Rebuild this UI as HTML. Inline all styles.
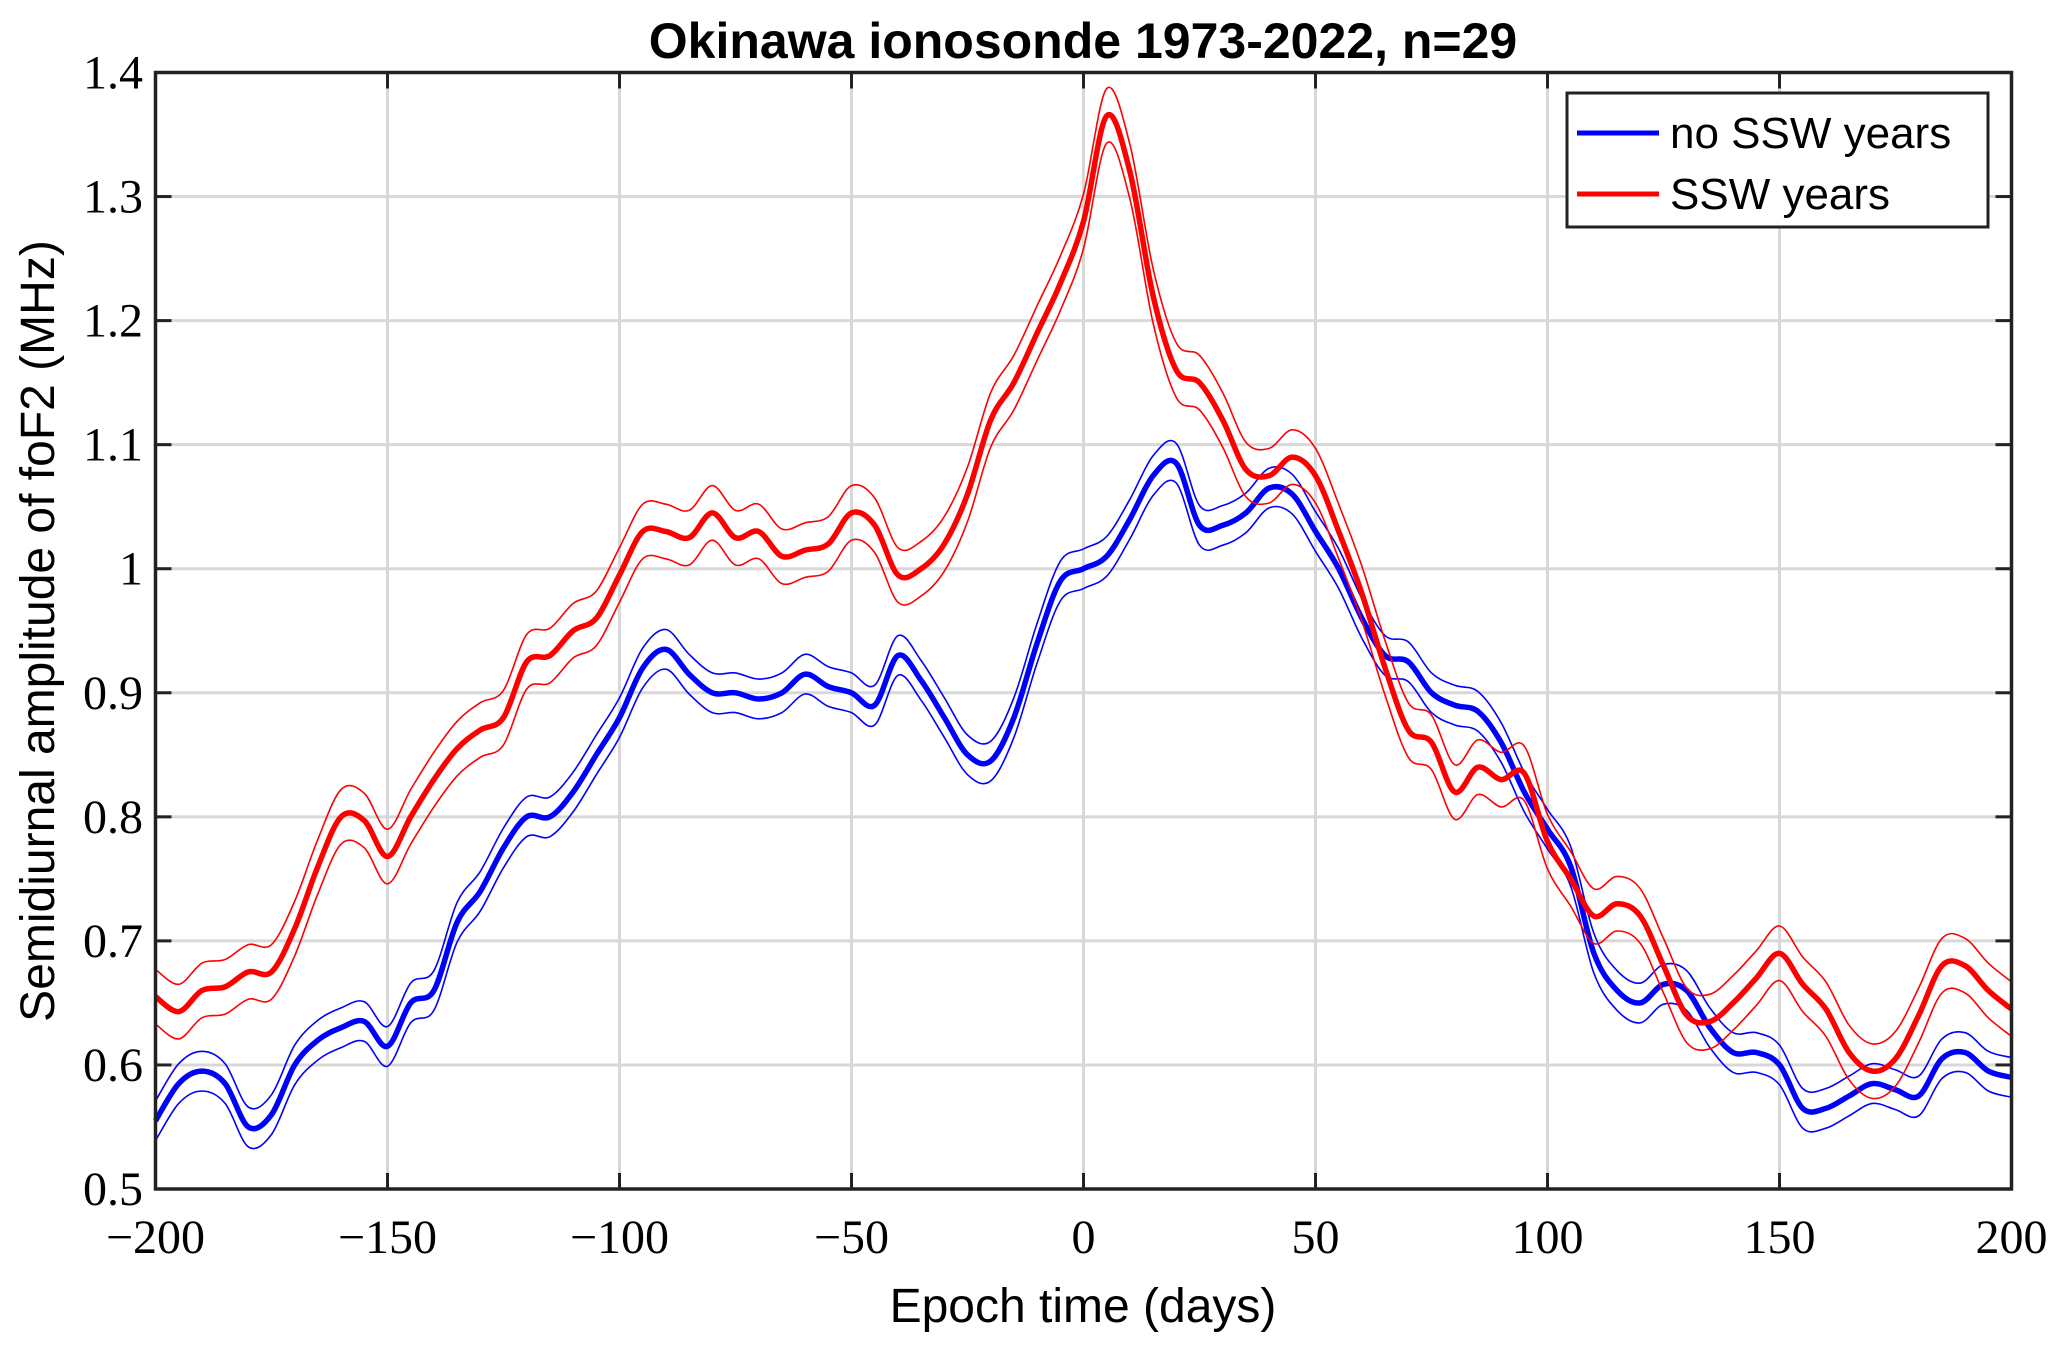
<!DOCTYPE html>
<html><head><meta charset="utf-8"><style>
body{margin:0;background:#fff}
svg{display:block}
</style></head><body>
<svg id="chart" width="2067" height="1351" xmlns="http://www.w3.org/2000/svg">
<rect width="2067" height="1351" fill="#fff"/>
<g id="grid"></g>
<g id="series"></g>
<g id="axes"></g>
<text x="1083" y="58" text-anchor="middle" font-family="Liberation Sans, sans-serif" font-weight="bold" font-size="50">Okinawa ionosonde 1973-2022, n=29</text>
<text x="1083" y="1322" text-anchor="middle" font-family="Liberation Sans, sans-serif" font-size="48">Epoch time (days)</text>
<text transform="translate(54,631) rotate(-90)" text-anchor="middle" font-family="Liberation Sans, sans-serif" font-size="48">Semidiurnal amplitude of foF2 (MHz)</text>
<g>
<rect x="1567" y="93" width="421" height="134" fill="#fff" stroke="#222" stroke-width="3"/>
<line x1="1577" y1="133" x2="1659" y2="133" stroke="#0000ff" stroke-width="5"/>
<text x="1670" y="148" font-family="Liberation Sans, sans-serif" font-size="44">no SSW years</text>
<line x1="1577" y1="194" x2="1659" y2="194" stroke="#ff0000" stroke-width="5"/>
<text x="1670" y="209" font-family="Liberation Sans, sans-serif" font-size="44">SSW years</text>
</g>
</svg>
<script>
const days = [];
for (let d = -200; d <= 200; d += 5) days.push(d);
const sswValues = [0.655,0.643,0.66,0.663,0.675,0.675,0.71,0.76,0.8,0.797,0.768,0.8,0.83,0.855,0.87,0.88,0.925,0.93,0.95,0.96,0.995,1.03,1.03,1.025,1.045,1.025,1.03,1.01,1.015,1.02,1.045,1.035,0.995,1.0,1.02,1.06,1.12,1.15,1.19,1.23,1.28,1.365,1.32,1.22,1.16,1.15,1.12,1.08,1.075,1.09,1.075,1.03,0.98,0.92,0.87,0.86,0.82,0.84,0.83,0.835,0.78,0.75,0.72,0.73,0.72,0.68,0.64,0.635,0.65,0.67,0.69,0.665,0.645,0.61,0.595,0.605,0.64,0.68,0.68,0.66,0.645];
const noSswValues = [0.555,0.585,0.595,0.585,0.55,0.56,0.6,0.62,0.63,0.635,0.615,0.65,0.66,0.715,0.74,0.775,0.8,0.8,0.82,0.85,0.88,0.92,0.935,0.915,0.9,0.9,0.895,0.9,0.915,0.905,0.9,0.89,0.93,0.91,0.88,0.85,0.845,0.88,0.94,0.99,1.0,1.01,1.04,1.075,1.085,1.035,1.035,1.045,1.065,1.06,1.03,1.0,0.96,0.93,0.925,0.9,0.89,0.885,0.86,0.82,0.79,0.76,0.69,0.66,0.65,0.665,0.66,0.63,0.61,0.61,0.6,0.565,0.565,0.575,0.585,0.58,0.575,0.605,0.61,0.595,0.59];
const sswSpread = [0.022];
const noSswSpread = [0.016];
const xTicks = [-200,-150,-100,-50,0,50,100,150,200];
const xTickLabels = ["\u2212200","\u2212150","\u2212100","\u221250","0","50","100","150","200"];
const yTicks = [0.5,0.6,0.7,0.8,0.9,1,1.1,1.2,1.3,1.4];
const yTickLabels = ["0.5","0.6","0.7","0.8","0.9","1","1.1","1.2","1.3","1.4"];

const L=155.5,R=2011.5,T=72.5,B=1189;
const xs = d => L + (d+200)/400*(R-L);
const ys = v => B - (v-0.5)/0.9*(B-T);
const NS='http://www.w3.org/2000/svg';
function mk(tag, attrs, parent){const e=document.createElementNS(NS,tag);for(const k in attrs)e.setAttribute(k,attrs[k]);parent.appendChild(e);return e;}
const grid=document.getElementById('grid'), axes=document.getElementById('axes'), series=document.getElementById('series');
xTicks.forEach((t,i)=>{
  if(i>0&&i<xTicks.length-1){
    const g=mk('line',{x1:xs(t),x2:xs(t),y1:T,y2:B,stroke:'#d8d8d8','stroke-width':3},grid);
    
    
    for(const [y1,y2] of [[B,B-16],[T,T+16]]){
      const tk=mk('line',{x1:xs(t),x2:xs(t),y1:y1,y2:y2,stroke:'#222','stroke-width':3},axes);
      
      
    }
  }
  const lb=mk('text',{x:xs(t),y:1253,'text-anchor':'middle','font-family':'Liberation Serif, serif','font-size':48},axes);
  lb.textContent=xTickLabels[i];
  
  
});
yTicks.forEach((t,i)=>{
  if(i>0&&i<yTicks.length-1){
    const g=mk('line',{x1:L,x2:R,y1:ys(t),y2:ys(t),stroke:'#d8d8d8','stroke-width':3},grid);
    
    
    for(const [x1,x2] of [[L,L+16],[R,R-16]]){
      const tk=mk('line',{x1:x1,x2:x2,y1:ys(t),y2:ys(t),stroke:'#222','stroke-width':3},axes);
      
      
    }
  }
  const lb=mk('text',{x:143,y:ys(t)+16,'text-anchor':'end','font-family':'Liberation Serif, serif','font-size':48},axes);
  lb.textContent=yTickLabels[i];
  
  
});
const frame=mk('rect',{x:L,y:T,width:R-L,height:B-T,fill:'none',stroke:'#222','stroke-width':3.5},axes);



function pathOf(vals, off){
  const p=vals.map((v,i)=>[xs(days[i]),ys(v+off)]);
  let d='M'+p[0][0].toFixed(1)+','+p[0][1].toFixed(1);
  for(let i=0;i<p.length-1;i++){
    const p0=p[Math.max(0,i-1)],p1=p[i],p2=p[i+1],p3=p[Math.min(p.length-1,i+2)];
    const c1=[p1[0]+(p2[0]-p0[0])/6,p1[1]+(p2[1]-p0[1])/6];
    const c2=[p2[0]-(p3[0]-p1[0])/6,p2[1]-(p3[1]-p1[1])/6];
    d+=`C${c1[0].toFixed(1)},${c1[1].toFixed(1)} ${c2[0].toFixed(1)},${c2[1].toFixed(1)} ${p2[0].toFixed(1)},${p2[1].toFixed(1)}`;
  }
  return d;
}
function drawSeries(vals, spread, color, name){
  const up=mk('path',{d:pathOf(vals,spread[0]),fill:'none',stroke:color,'stroke-width':1.6},series);
  
  
  const lo=mk('path',{d:pathOf(vals,-spread[0]),fill:'none',stroke:color,'stroke-width':1.6},series);
  
  
  const m=mk('path',{d:pathOf(vals,0),fill:'none',stroke:color,'stroke-width':5.5,'stroke-linejoin':'round'},series);
  
  
}
drawSeries(noSswValues,noSswSpread,'#0000ff','no-ssw');
drawSeries(sswValues,sswSpread,'#ff0000','ssw');
</script>
</body></html>
